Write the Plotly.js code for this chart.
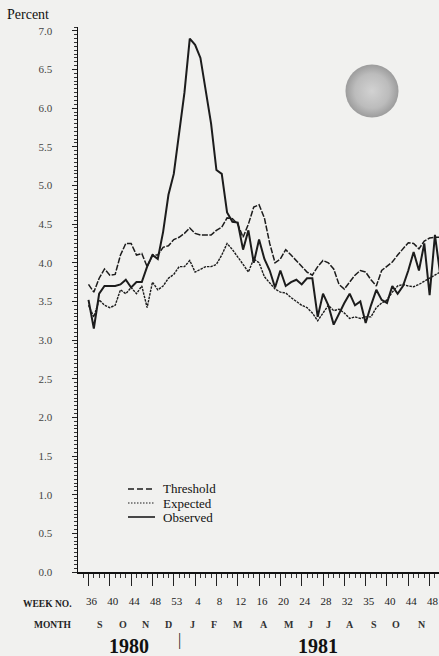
<!DOCTYPE html>
<html>
<head>
<meta charset="utf-8">
<script src="https://cdn.plot.ly/plotly-3.0.1.min.js"></script>
<style>
  html, body { margin: 0; padding: 0; background: #f1f1ef; }
  #chart { width: 439px; height: 656px; }
</style>
</head>
<body>
<div id="chart"></div>
<script>
// ---- Data (weekly, starting week 36 of 1980) ----
const observed = [3.52,3.15,3.6,3.7,3.7,3.7,3.72,3.78,3.68,3.75,
                  3.75,3.95,4.1,4.05,4.4,4.88,5.15,5.7,6.2,6.9,
                  6.82,6.65,6.2,5.8,5.2,5.15,4.65,4.53,4.52,4.17,
                  4.42,4.0,4.3,4.05,3.9,3.68,3.9,3.7,3.75,3.78,
                  3.72,3.8,3.8,3.3,3.6,3.45,3.2,3.35,3.48,3.6,
                  3.45,3.5,3.22,3.45,3.65,3.52,3.48,3.7,3.6,3.7,
                  3.9,4.14,3.9,4.25,3.58,4.36,3.84];
const threshold = [3.72,3.62,3.8,3.92,3.84,3.85,4.1,4.25,4.25,4.1,
                   4.12,3.95,4.1,4.1,4.2,4.22,4.3,4.33,4.38,4.45,
                   4.38,4.36,4.36,4.36,4.42,4.46,4.58,4.57,4.5,4.33,
                   4.5,4.72,4.75,4.58,4.25,4.0,4.05,4.17,4.1,4.03,
                   3.95,3.88,3.84,3.95,4.03,4.0,3.92,3.72,3.66,3.75,
                   3.84,3.9,3.88,3.78,3.7,3.9,3.95,4.01,4.1,4.18,
                   4.26,4.25,4.18,4.28,4.32,4.33,4.33];
const expected = [3.45,3.3,3.52,3.45,3.42,3.45,3.65,3.6,3.68,3.6,
                  3.7,3.42,3.75,3.65,3.7,3.8,3.85,3.95,3.95,4.03,
                  3.88,3.92,3.95,3.95,3.98,4.1,4.25,4.17,4.08,3.98,
                  3.88,4.05,4.0,3.82,3.74,3.66,3.62,3.61,3.55,3.5,
                  3.45,3.42,3.35,3.25,3.35,3.45,3.38,3.4,3.35,3.28,
                  3.3,3.28,3.3,3.3,3.42,3.48,3.52,3.62,3.7,3.72,
                  3.7,3.69,3.72,3.76,3.8,3.84,3.88];

const weekTickIdx = [0,4,8,12,16,20,24,28,32,36,40,44,48,52,56,60,64];
const weekLabels  = ['36','40','44','48','53','4','8','12','16','20','24','28','32','35','40','44','48'];
const monthIdx    = [2.2,6.5,10.8,15.1,19.6,23.5,28.0,32.9,37.6,41.7,45.1,49.1,53.6,57.7,62.6];
const monthLabels = ['S','O','N','D','J','F','M','A','M','J','J','A','S','O','N'];
const yearIdx     = [7.6,43.0];
const yearLabels  = ['1980','1981'];
const yearBreakIdx = 17.0;
const legendNames = ['Threshold','Expected','Observed'];

const idx = observed.map((_, i) => i);
const SERIF = '"Liberation Serif", "Times New Roman", serif';
const INK = '#1c1c1c';

const traces = [
  {x: idx, y: threshold, name: legendNames[0], mode: 'lines',
   line: {color: INK, width: 1.5, dash: '6px,1.5px'}},
  {x: idx, y: expected, name: legendNames[1], mode: 'lines',
   line: {color: INK, width: 1.4, dash: '2.5px,1px'}},
  {x: idx, y: observed, name: legendNames[2], mode: 'lines',
   line: {color: INK, width: 2}}
];

// pixel helpers for layout decorations
const L = 78, T = 27, PW = 361, PH = 545;
const px = X => (X - L) / PW;
const py = Y => (T + PH - Y) / PH;

const annotations = [];
annotations.push({xref:'paper', yref:'paper', x: px(5), y: py(14), xanchor:'left', yanchor:'middle',
  text:'Percent', showarrow:false, font:{family:SERIF, size:14, color:'#111'}});
annotations.push({xref:'paper', yref:'paper', x: px(74), y: py(604), xanchor:'right', yanchor:'middle',
  text:'<b>WEEK NO.</b>', showarrow:false, font:{family:SERIF, size:9.5, color:'#222'}});
annotations.push({xref:'paper', yref:'paper', x: px(74), y: py(625), xanchor:'right', yanchor:'middle',
  text:'<b>MONTH</b>', showarrow:false, font:{family:SERIF, size:9.5, color:'#222'}});
monthLabels.forEach((m, k) => annotations.push({xref:'x', yref:'paper', x: monthIdx[k], y: py(624),
  xanchor:'center', yanchor:'middle', text:'<b>'+m+'</b>', showarrow:false,
  font:{family:SERIF, size:10, color:'#333'}}));
yearLabels.forEach((yr, k) => annotations.push({xref:'x', yref:'paper', x: yearIdx[k], y: py(646),
  xanchor:'center', yanchor:'middle', text:'<b>'+yr+'</b>', showarrow:false,
  font:{family:SERIF, size:20, color:'#111'}}));
annotations.push({xref:'x', yref:'paper', x: yearBreakIdx, y: py(640), xanchor:'center', yanchor:'middle',
  text:'|', showarrow:false, font:{family:SERIF, size:16, color:'#222'}});

// custom legend
const legY = [489, 503, 517];
const legDash = ['6px,3px', '1.5px,1.5px', 'solid'];
const legW = [1.3, 1.2, 1.6];
const shapes = [];
legendNames.forEach((n, k) => {
  shapes.push({type:'line', xref:'paper', yref:'paper', x0: px(128), x1: px(155), y0: py(legY[k]), y1: py(legY[k]),
    line:{color: INK, width: legW[k], dash: legDash[k]}});
  annotations.push({xref:'paper', yref:'paper', x: px(162), y: py(legY[k]), xanchor:'left', yanchor:'middle',
    text: n, showarrow:false, borderpad: 0, font:{family:SERIF, size:13, color:'#111'}});
});

const sphereSvg = "<svg xmlns='http://www.w3.org/2000/svg' width='56' height='56'>" +
  "<defs><radialGradient id='g' cx='50%' cy='50%' r='50%'>" +
  "<stop offset='0' stop-color='#d2d2d2'/><stop offset='0.65' stop-color='#bcbcbc'/>" +
  "<stop offset='1' stop-color='#9c9c9c'/></radialGradient></defs>" +
  "<circle cx='28' cy='28' r='27.5' fill='url(#g)'/></svg>";

const layout = {
  width: 439, height: 656,
  margin: {l: L, r: 0, t: T, b: 656 - T - PH, pad: 0},
  paper_bgcolor: '#f1f1ef', plot_bgcolor: '#f1f1ef',
  showlegend: false,
  font: {family: SERIF, color: '#222'},
  xaxis: {
    range: [-1.97, 65.76], showgrid: false, zeroline: false,
    showline: true, linecolor: '#111', linewidth: 1.5,
    ticks: 'outside', ticklen: 12, tickwidth: 1, tickcolor: '#222',
    tickmode: 'array', tickvals: weekTickIdx, ticktext: weekLabels,
    tickfont: {family: SERIF, size: 11, color: '#222'},
    ticklabelstandoff: 6, ticklabelshift: 3,
    minor: {tickmode: 'linear', tick0: 0, dtick: 1, ticks: 'outside', ticklen: 4, tickwidth: 1, tickcolor: '#333', showgrid: false}
  },
  yaxis: {
    range: [0, 7.05], showgrid: false, zeroline: false,
    showline: true, linecolor: '#111', linewidth: 1.5,
    ticks: 'outside', ticklen: 5, tickwidth: 1, tickcolor: '#222',
    tickmode: 'linear', tick0: 0, dtick: 0.5, tickformat: '.1f',
    tickfont: {family: SERIF, size: 11, color: '#444'},
    ticklabelstandoff: 17,
    minor: {tickmode: 'linear', tick0: 0, dtick: 0.05, ticks: 'outside', ticklen: 3, tickwidth: 1, tickcolor: '#333', showgrid: false}
  },
  annotations: annotations,
  shapes: shapes,
  images: [{source: 'data:image/svg+xml;charset=utf-8,' + encodeURIComponent(sphereSvg),
    xref: 'paper', yref: 'paper', x: px(345), y: py(64), sizex: 54/PW, sizey: 54/PH,
    xanchor: 'left', yanchor: 'top', sizing: 'stretch', layer: 'above'}]
};

Plotly.newPlot('chart', traces, layout, {displayModeBar: false, staticPlot: true});
</script>
</body>
</html>
